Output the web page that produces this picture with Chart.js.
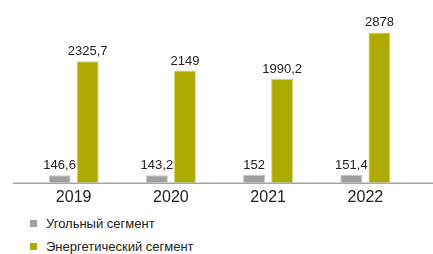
<!DOCTYPE html>
<html><head><meta charset="utf-8">
<script src="https://cdn.jsdelivr.net/npm/chart.js@4/dist/chart.umd.min.js"></script>
<style>
html,body{margin:0;padding:0;background:#fff;width:433px;height:254px;overflow:hidden;font-family:"Liberation Sans",Arial,sans-serif;}
#wrap{position:absolute;left:0;top:0;width:433px;height:212px;}
#legend{position:absolute;left:30px;top:212px;font-size:13px;color:#222;}
#legend .item{display:flex;align-items:center;height:23px;}
#legend .box{width:7px;height:7px;margin-right:9px;}
</style></head>
<body>
<div id="wrap"><canvas id="c" width="433" height="212"></canvas></div>
<div id="legend"></div>
<script>
const categories = ["2019","2020","2021","2022"];
const coalValues = [146.6, 143.2, 152, 151.4];
const energyValues = [2325.7, 2149, 1990.2, 2878];
const seriesNames = ["Угольный сегмент","Энергетический сегмент"];
const coalLabels = ["146,6","143,2","152","151,4"];
const energyLabels = ["2325,7","2149","1990,2","2878"];

const valueLabels = {
  id:'valueLabels',
  afterDatasetsDraw(chart){
    const ctx = chart.ctx;
    ctx.save();
    ctx.font = '13px "Liberation Sans", Arial, sans-serif';
    ctx.fillStyle = '#222';
    ctx.textAlign = 'center';
    ctx.textBaseline = 'bottom';
    chart.data.datasets.forEach((ds, di) => {
      const meta = chart.getDatasetMeta(di);
      meta.data.forEach((el, i) => {
        ctx.fillText(ds.labelsText[i], el.x, el.y - 3);
      });
    });
    ctx.restore();
  }
};
const axisLine = {
  id:'axisLine',
  afterDatasetsDraw(chart){
    const ctx = chart.ctx;
    const y = chart.scales.y.getPixelForValue(0) + 0.5;
    ctx.save();
    ctx.strokeStyle = '#a6a6a6';
    ctx.lineWidth = 1.5;
    ctx.beginPath();
    ctx.moveTo(13, y);
    ctx.lineTo(433, y);
    ctx.stroke();
    ctx.restore();
  }
};

const chart = new Chart(document.getElementById('c'), {
  type:'bar',
  data:{
    labels: categories,
    datasets:[
      {label: seriesNames[0], data: coalValues, labelsText: coalLabels, backgroundColor:'#a0a0a0', borderColor:'#c8c8c8', borderWidth:1, categoryPercentage:0.577, barPercentage:0.786},
      {label: seriesNames[1], data: energyValues, labelsText: energyLabels, backgroundColor:'#aeaa00', borderColor:'#d9d67a', borderWidth:1, categoryPercentage:0.577, barPercentage:0.786}
    ]
  },
  options:{
    responsive:false,
    animation:false,
    devicePixelRatio:1,
    layout:{padding:{left:25, right:19, top:26, bottom:0}},
    plugins:{legend:{display:false}, tooltip:{enabled:false}},
    scales:{
      x:{
        grid:{display:false, drawTicks:false},
        border:{display:false},
        ticks:{color:'#222', font:{size:16, family:'"Liberation Sans", Arial, sans-serif'}, padding:5}
      },
      y:{
        display:false,
        min:0, max:3000
      }
    }
  },
  plugins:[valueLabels, axisLine]
});

const leg = document.getElementById('legend');
chart.data.datasets.forEach(ds => {
  const it = document.createElement('div'); it.className='item';
  const b = document.createElement('span'); b.className='box'; b.style.background = ds.backgroundColor;
  const t = document.createElement('span'); t.textContent = ds.label;
  it.appendChild(b); it.appendChild(t); leg.appendChild(it);
});
</script>
</body></html>
